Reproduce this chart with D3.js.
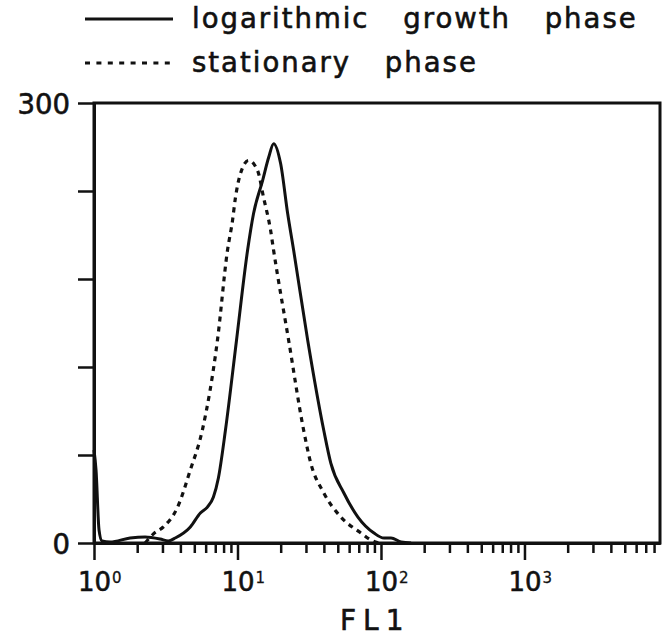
<!DOCTYPE html>
<html>
<head>
<meta charset="utf-8">
<script src="https://cdn.jsdelivr.net/npm/d3@7"></script>
<style>
  html, body { margin: 0; padding: 0; background: #fff; }
  svg { display: block; }
  text { font-family: "DejaVu Sans", "Liberation Sans", Arial, sans-serif; fill: #111; stroke: #111; stroke-width: 0.6px; }
</style>
</head>
<body>
<svg id="chart" width="668" height="636"></svg>
<script>
// ---- data ----
const logGrowthFL1   = [1.000, 1.033, 1.084, 1.137, 1.294, 1.785, 2.273, 2.894, 3.292, 3.685, 4.692, 5.512, 6.169, 6.797, 7.36, 8.245, 9.84, 11.75, 12.94, 14.96, 16.48, 17.86, 19.98, 22.37, 24.64, 30.87, 39.95, 44.70, 55.12, 69.06, 89.33, 105.0, 117.5, 138.0, 162.1];
const logGrowthCount = [63.4, 49.8, 8.9, 1.4, 0.7, 3.4, 4.1, 2.7, 1.4, 3.4, 10.9, 20.5, 24.5, 31.4, 44.3, 77.0, 138.1, 199.4, 224.6, 247.1, 262.8, 272.3, 258.7, 224.6, 199.4, 138.1, 76.7, 54.5, 34.1, 17.7, 6.8, 3.4, 3.4, 0.7, 0];

const stationaryFL1   = [2.273, 2.586, 3.038, 3.805, 4.692, 5.69, 7.246, 8.513, 9.23, 9.68, 10.49, 11.94, 13.80, 15.20, 17.02, 17.86, 22.73, 28.94, 32.40, 39.95, 52.52, 72.47, 85.13, 96.8];
const stationaryCount = [0, 6.1, 10.9, 24.0, 49.8, 77.0, 138.1, 199.4, 219.8, 235.5, 251.9, 260.8, 254.0, 235.5, 213.0, 199.4, 138.1, 76.7, 54.5, 34.1, 17.7, 6.8, 2.0, 0];

const seriesNames   = ["logarithmic growth phase", "stationary phase"];
const xDomain       = [1, 8800];
const yDomain       = [0, 300];
const xMajorTicks   = [1, 10, 100, 1000];
const xMajorExp     = ["0", "1", "2", "3"];
const yTickValues   = [0, 60, 120, 180, 240, 300];
const yTickLabels   = ["0", "", "", "", "", "300"];
const xAxisTitle    = "FL1";

// ---- layout ----
const svg = d3.select("#chart");
const mLeft = 94, mRight = 660, mTop = 103, mBottom = 543;

const x = d3.scaleLog().domain(xDomain).range([mLeft, mRight]);
const y = d3.scaleLinear().domain(yDomain).range([mBottom, mTop]);

const minorTicks = [];
for (let d = 1; d < xDomain[1]; d *= 10) {
  for (let k = 2; k <= 9; k++) { const v = d * k; if (v <= xDomain[1]) minorTicks.push(v); }
}

// frame
svg.append("rect")
  .attr("x", x(xDomain[0])).attr("y", y(yDomain[1]))
  .attr("width", x(xDomain[1]) - x(xDomain[0]))
  .attr("height", y(yDomain[0]) - y(yDomain[1]))
  .attr("fill", "none").attr("stroke", "#111").attr("stroke-width", 3);

// x axis minor ticks
const gxMinor = svg.append("g").attr("transform", `translate(0,${mBottom})`)
  .call(d3.axisBottom(x).tickValues(minorTicks).tickSize(10).tickSizeOuter(0).tickFormat(""));
// x axis major ticks
const gxMajor = svg.append("g").attr("transform", `translate(0,${mBottom})`)
  .call(d3.axisBottom(x).tickValues(xMajorTicks).tickSize(17).tickSizeOuter(0).tickFormat(""));
[gxMinor, gxMajor].forEach(g => {
  g.select(".domain").attr("stroke", "#111").attr("stroke-width", 3);
  g.selectAll(".tick line").attr("stroke", "#111").attr("stroke-width", 2.5);
});

// x major labels: 10 with superscript
const xl = svg.append("g");
xMajorTicks.forEach((v, i) => {
  xl.append("text")
    .attr("x", x(v) + 0.5).attr("y", 591)
    .attr("text-anchor", "middle")
    .style("font-size", "26px")
    .text("10");
  xl.append("text")
    .attr("x", x(v) + 18).attr("y", 583)
    .style("font-size", "15px").style("stroke-width", "0.3px")
    .text(xMajorExp[i]);
});

// y axis
const gy = svg.append("g").attr("transform", `translate(${mLeft},0)`)
  .call(d3.axisLeft(y).tickValues(yTickValues).tickSize(16).tickSizeOuter(0).tickFormat(""));
gy.select(".domain").attr("stroke", "#111").attr("stroke-width", 3);
gy.selectAll(".tick line").attr("stroke", "#111").attr("stroke-width", 2.5);

yTickValues.forEach((v, i) => {
  if (!yTickLabels[i]) return;
  svg.append("text")
    .attr("x", 70).attr("y", y(v) + 11)
    .attr("text-anchor", "end")
    .style("font-size", "27.5px")
    .text(yTickLabels[i]);
});

// x axis title
svg.append("text")
  .attr("x", 340).attr("y", 630)
  .style("font-size", "28px").style("letter-spacing", "7px")
  .text(xAxisTitle);

// curves
const line = d3.line()
  .x(d => x(d[0])).y(d => y(d[1]))
  .curve(d3.curveMonotoneX);

const solidData = logGrowthFL1.map((v, i) => [v, logGrowthCount[i]]);
const dottedData = stationaryFL1.map((v, i) => [v, stationaryCount[i]]);

svg.append("path").datum(dottedData)
  .attr("d", line).attr("fill", "none")
  .attr("stroke", "#111").attr("stroke-width", 3.2)
  .attr("stroke-dasharray", "5,5");

svg.append("path").datum(solidData)
  .attr("d", line).attr("fill", "none")
  .attr("stroke", "#111").attr("stroke-width", 3)
  .attr("stroke-linejoin", "round");

// legend
const lg = svg.append("g");
lg.append("line").attr("x1", 85).attr("x2", 173).attr("y1", 19).attr("y2", 19)
  .attr("stroke", "#111").attr("stroke-width", 3);
lg.append("text").attr("x", 192).attr("y", 28)
  .style("font-size", "27.5px").style("letter-spacing", "2px").style("word-spacing", "23px")
  .text(seriesNames[0]);
lg.append("line").attr("x1", 85).attr("x2", 173).attr("y1", 63).attr("y2", 63)
  .attr("stroke", "#111").attr("stroke-width", 3.2).attr("stroke-dasharray", "5,6.4");
lg.append("text").attr("x", 192).attr("y", 72)
  .style("font-size", "27.5px").style("letter-spacing", "2px").style("word-spacing", "23px")
  .text(seriesNames[1]);
</script>
</body>
</html>
